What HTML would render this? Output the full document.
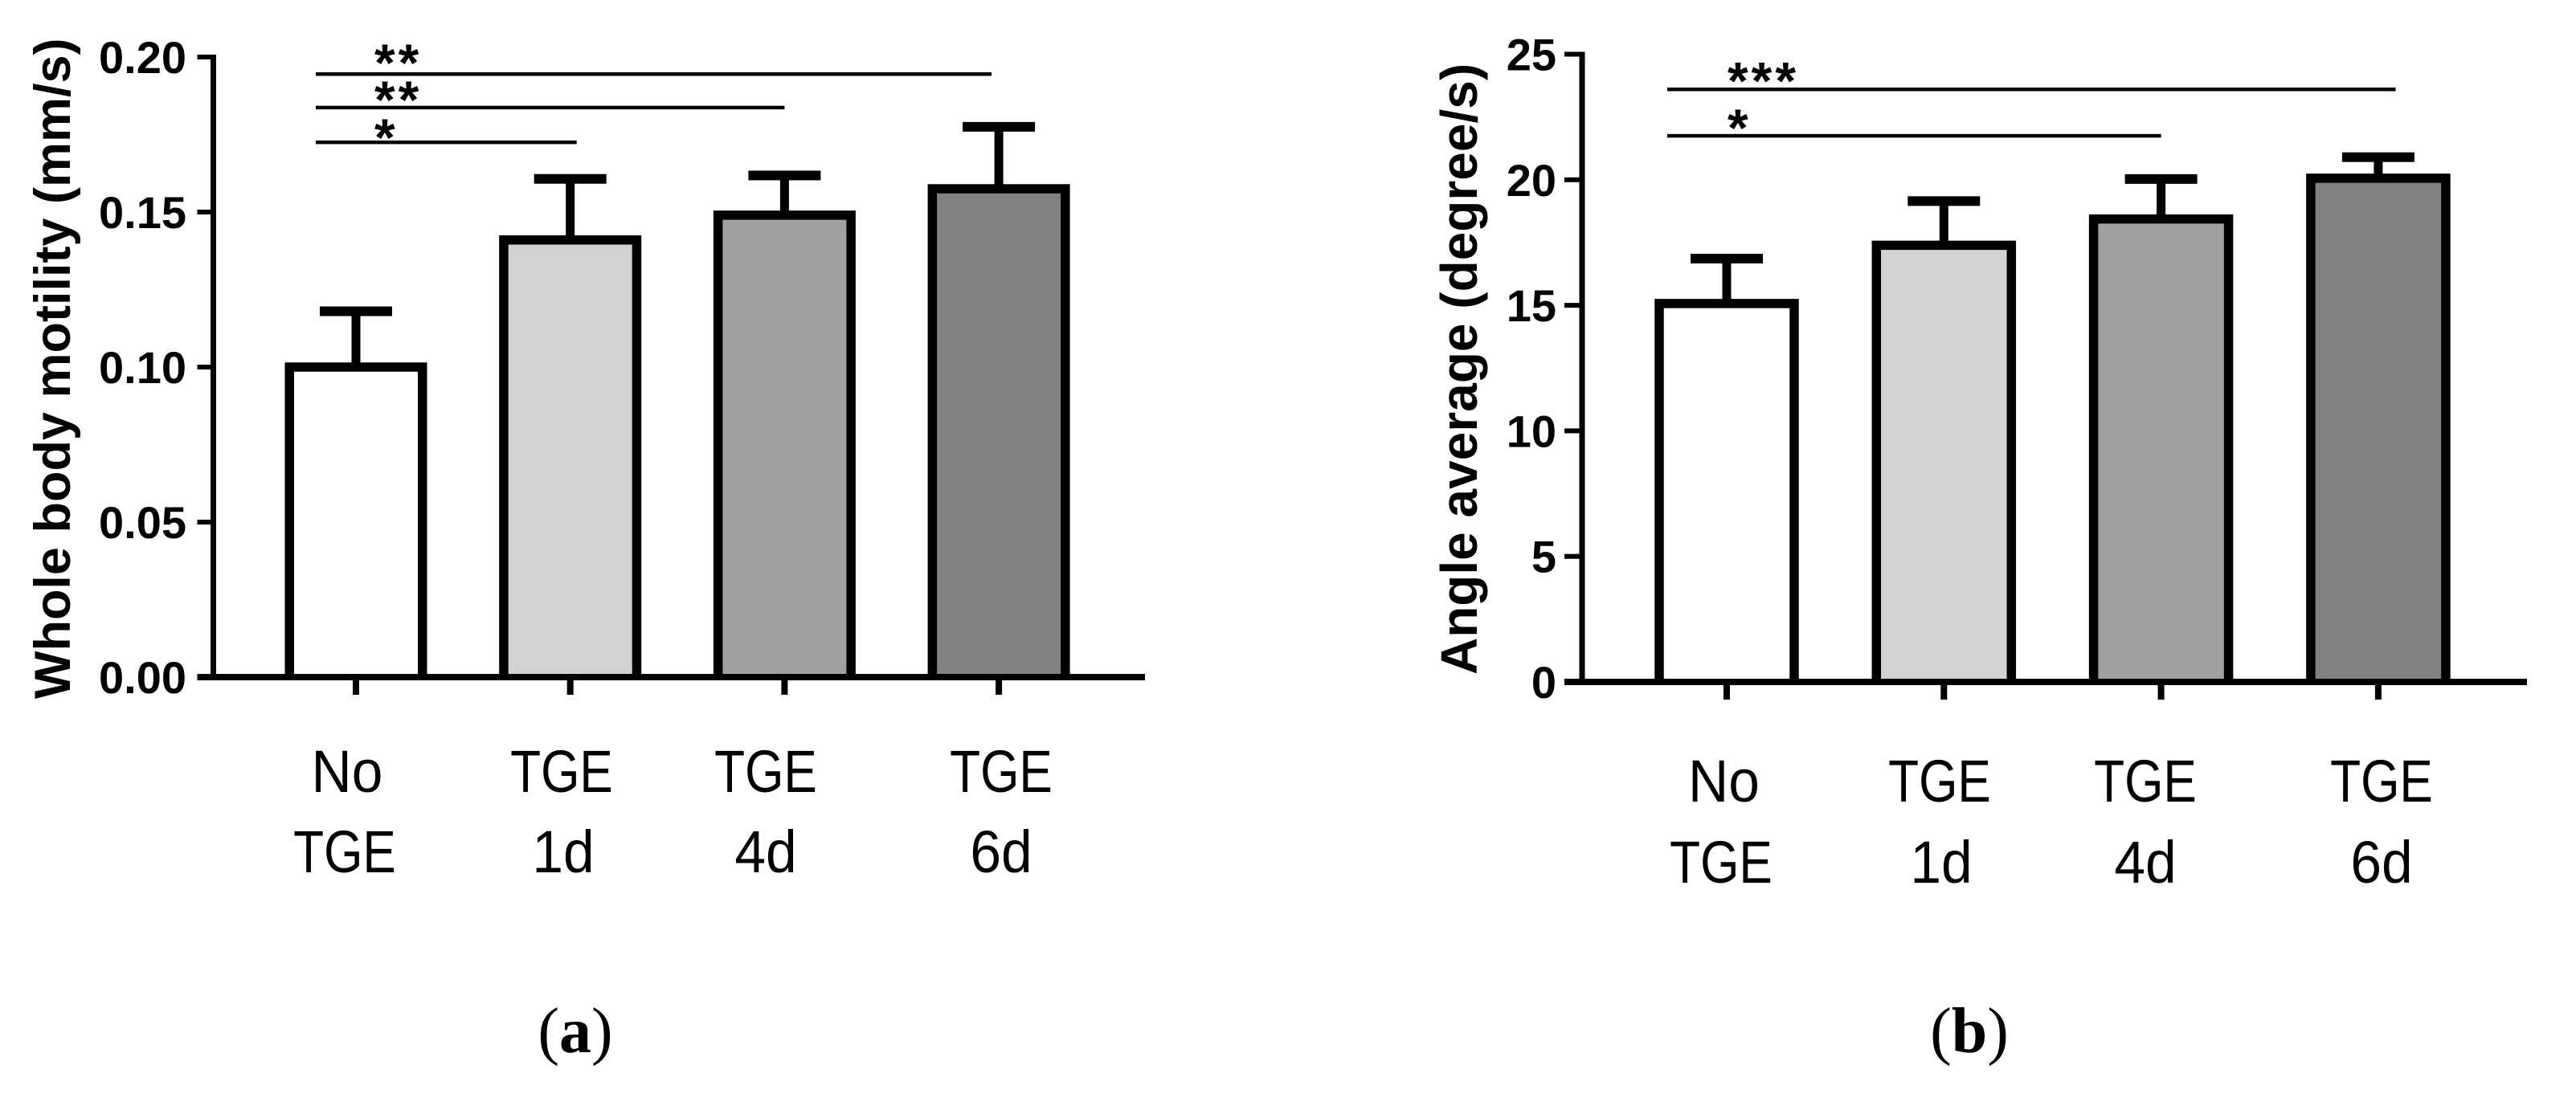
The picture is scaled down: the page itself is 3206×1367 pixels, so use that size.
<!DOCTYPE html>
<html lang="en">
<head>
<meta charset="utf-8">
<title>Whole body motility and angle average</title>
<style>
  html, body { margin: 0; padding: 0; background: #fff; }
  body { width: 3206px; height: 1367px; overflow: hidden; }
  svg { display: block; }
  text { fill: #000; }
  .tick-label { font: bold 56px "Liberation Sans", Arial, sans-serif; text-anchor: end; }
  .axis-title { font: bold 63px "Liberation Sans", Arial, sans-serif; text-anchor: start; }
  .cat-label { font: 74px "Liberation Sans", Arial, sans-serif; text-anchor: middle; }
  .star { font: bold 66px "Liberation Sans", Arial, sans-serif; letter-spacing: 4px; }
  .caption { font: 80px "Liberation Serif", "Times New Roman", serif; text-anchor: middle; }
</style>
</head>
<body>
<svg id="figure" xmlns="http://www.w3.org/2000/svg" width="3206" height="1367" viewBox="0 0 3206 1367">
  <rect x="0" y="0" width="3206" height="1367" fill="#ffffff"/>
  <text class="axis-title" transform="translate(87 870) rotate(-90)">Whole body motility (mm/s)</text>
  <text class="axis-title" transform="translate(1838 840) rotate(-90)" style="font-size:64px">Angle average (degree/s)</text>
  <text class="caption" x="716" y="1310">(<tspan font-weight="bold">a</tspan>)</text>
  <text class="caption" x="2451" y="1310">(<tspan font-weight="bold">b</tspan>)</text>
</svg>
<script>
// Shared categories
const categoryLine1 = ['No', 'TGE', 'TGE', 'TGE'];
const categoryLine2 = ['TGE', '1d', '4d', '6d'];
const barFills = ['#ffffff', '#d2d2d2', '#a0a0a2', '#828282'];

// Panel (a): whole body motility
const motilityMeans = [0.1, 0.141, 0.149, 0.1575];
const motilityUpper = [0.118, 0.1607, 0.1618, 0.1775];
const motilityTicks = [0, 0.05, 0.1, 0.15, 0.2];
const motilityTickLabels = ['0.00', '0.05', '0.10', '0.15', '0.20'];
const motilityStars = ['**', '**', '*'];
const motilityLineLevels = [0.1945, 0.1837, 0.1725];
const motilityStarLevels = [0.2008, 0.1889, 0.1767];
const motilityLineEnds = [2.966, 2, 1.03];

// Panel (b): angle average
const angleMeans = [15.07, 17.39, 18.44, 20.06];
const angleUpper = [16.86, 19.15, 20.03, 20.9];
const angleTicks = [0, 5, 10, 15, 20, 25];
const angleTickLabels = ['0', '5', '10', '15', '20', '25'];
const angleStars = ['***', '*'];
const angleLineLevels = [23.6, 21.75];
const angleStarLevels = [24.26, 22.39];
const angleLineEnds = [3.08, 2];

const SVG_NS = 'http://www.w3.org/2000/svg';
const root = document.getElementById('figure');

function make(tag, attrs) {
  const node = document.createElementNS(SVG_NS, tag);
  for (const k in attrs) node.setAttribute(k, attrs[k]);
  root.appendChild(node);
  return node;
}

function drawPanel(p) {
  const y = v => p.baseY - v * p.pxPerUnit;
  const x = i => p.firstX + i * p.stepX;
  const maxTick = p.ticks[p.ticks.length - 1];

  // bars: fill plus an outline open at the bottom, which sits on the x axis
  p.means.forEach((m, i) => {
    const left = x(i) - p.barW / 2;
    const right = x(i) + p.barW / 2;
    const bar = make('rect', {
      x: left, y: y(m), width: p.barW, height: p.baseY - y(m), fill: barFills[i]
    });
    
    

    const outline = make('path', {
      d: 'M' + left + ' ' + p.baseY + 'V' + y(m) + 'H' + right + 'V' + p.baseY,
      fill: 'none', stroke: '#000', 'stroke-width': 11.5, 'stroke-linejoin': 'miter'
    });
    
    

    const stem = make('rect', {
      x: x(i) - 5.5, y: y(p.upper[i]), width: 11, height: y(m) - y(p.upper[i]), fill: '#000'
    });
    
    

    const cap = make('rect', {
      x: x(i) - 45, y: y(p.upper[i]) - 6, width: 90, height: 12, fill: '#000'
    });
    
    
  });

  // y axis
  const yAxis = make('rect', {
    x: p.axisX - 3.5, y: y(maxTick) - 3, width: 7, height: p.baseY - y(maxTick) + 3, fill: '#000'
  });
  
  

  p.ticks.forEach((t, i) => {
    const tick = make('rect', {
      x: p.axisX - p.tickLen, y: y(t) - 3, width: p.tickLen, height: 6, fill: '#000'
    });
    
    

    const label = make('text', { class: 'tick-label', x: p.labelRight, y: y(t) + 20 });
    label.textContent = p.tickLabels[i];
    
    
  });

  // x axis
  const xAxis = make('rect', {
    x: p.axisX - p.tickLen, y: p.baseY - 4, width: p.axisEnd - p.axisX + p.tickLen, height: 8, fill: '#000'
  });
  
  

  // category ticks and labels
  categoryLine1.forEach((c, i) => {
    const tick = make('rect', { x: x(i) - 4, y: p.baseY + 4, width: 8, height: 18, fill: '#000' });
    
    

    [[c, p.row1Y, p.row1X[i], 1], [categoryLine2[i], p.row2Y, p.row2X[i], 2]].forEach(row => {
      const sx = row[0] === 'TGE' ? 0.84 : 0.94;
      const t = make('text', { class: 'cat-label', transform: 'translate(' + row[2] + ' ' + row[1] + ') scale(' + sx + ' 1)' });
      t.textContent = row[0];
      
      
    });
  });

  // significance lines and stars
  p.stars.forEach((s, i) => {
    const ly = y(p.lineLevels[i]);
    const line = make('rect', {
      x: x(p.lineStart), y: ly - 2.25, width: x(p.lineEnds[i]) - x(p.lineStart), height: 4.5, fill: '#000'
    });
    
    

    const t = make('text', { class: 'star', x: p.starX, y: y(p.starLevels[i]) + 33 });
    t.textContent = s;
    
    
  });
}

drawPanel({
  id: 'a', baseY: 843, pxPerUnit: 3860, firstX: 443, stepX: 266.7, barW: 165.5,
  axisX: 265.5, tickLen: 20, axisEnd: 1425, labelRight: 232,
  row1X: [432, 699, 953, 1246], row2X: [429, 701, 953, 1246], row1Y: 986, row2Y: 1086,
  means: motilityMeans, upper: motilityUpper,
  ticks: motilityTicks, tickLabels: motilityTickLabels,
  stars: motilityStars, lineLevels: motilityLineLevels, starLevels: motilityStarLevels, lineEnds: motilityLineEnds,
  lineStart: -0.1875, starX: 466
});

drawPanel({
  id: 'b', baseY: 849, pxPerUnit: 31.26, firstX: 2149, stepX: 270.3, barW: 168,
  axisX: 1969, tickLen: 22, axisEnd: 3145, labelRight: 1937,
  row1X: [2145.5, 2414, 2670, 2964], row2X: [2142, 2416, 2670, 2964], row1Y: 998, row2Y: 1099,
  means: angleMeans, upper: angleUpper,
  ticks: angleTicks, tickLabels: angleTickLabels,
  stars: angleStars, lineLevels: angleLineLevels, starLevels: angleStarLevels, lineEnds: angleLineEnds,
  lineStart: -0.2737, starX: 2150
});
</script>
</body>
</html>
